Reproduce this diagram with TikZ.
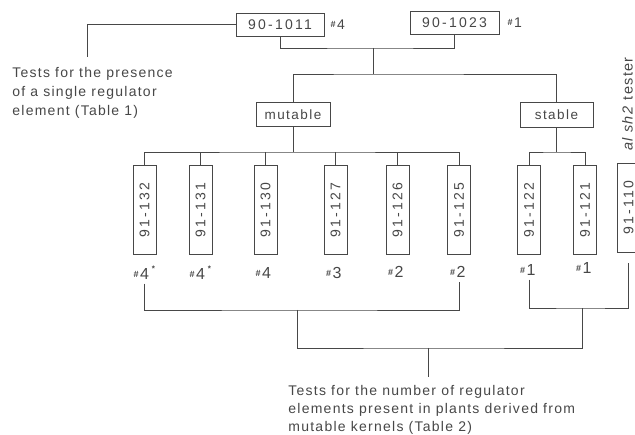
\documentclass[tikz,border=0pt]{standalone}
\usepackage{fontspec}
\setmainfont{Liberation Sans}
\newfontfamily\boxfont[LetterSpace=16]{Liberation Sans}
\newfontfamily\wordfont[LetterSpace=11]{Liberation Sans}
\newfontfamily\labfont[LetterSpace=9]{Liberation Sans}
\newcommand\hm{{\fontsize{9}{9}\selectfont\raisebox{2pt}{\textbf{\#}}}\kern1.5pt}
\newcommand\stmark{\rlap{\kern3pt\raisebox{8pt}{\fontsize{8}{8}\selectfont\textbf{*}}}}
\tikzset{
  diag/.style={x=1pt,y=-1pt,line width=0.7pt,color=black!72},
  numbox/.style={draw,inner sep=0pt,minimum height=23pt,font=\boxfont\fontsize{14}{14}\selectfont},
  wordbox/.style={draw,inner sep=0pt,minimum height=24pt,font=\wordfont\fontsize{13.5}{13.5}\selectfont},
  vbox/.style={draw,inner sep=0pt,minimum width=23pt,minimum height=89pt,font=\boxfont\fontsize{14}{14}\selectfont},
  lab/.style={inner sep=0pt,outer ysep=4pt,font=\fontsize{16}{16}\selectfont},
  hlab/.style={inner sep=0pt,anchor=west,font=\fontsize{14}{14}\selectfont},
  note/.style={inner sep=0pt,align=left,font=\labfont\fontsize{14}{19}\selectfont}
}
\begin{document}
\begin{tikzpicture}[diag]
\useasboundingbox (0,0) rectangle (635,435);
\clip (0,0) rectangle (635,435);
% top boxes
\node[numbox,minimum width=88pt] (n1011) at (280,24.5) {90-1011};
\node[numbox,minimum width=89pt] (n1023) at (454.5,22.5) {90-1023};
\node[hlab] (h1011) at ([xshift=6pt]n1011.east) {\hm4};
\node[hlab] (h1023) at ([xshift=8pt]n1023.east) {\hm1};
% class boxes
\node[wordbox,minimum width=74pt] (mutable) at (293,114.5) {mutable};
\node[wordbox,minimum width=73pt,minimum height=25pt] (stable) at (556.5,114.5) {stable};
% plant boxes
\node[vbox] (c132) at (144.5,210) {\rotatebox{90}{91-132}};
\node[vbox] (c131) at (200.5,210) {\rotatebox{90}{91-131}};
\node[vbox] (c130) at (265.5,210) {\rotatebox{90}{91-130}};
\node[vbox] (c127) at (335.5,210) {\rotatebox{90}{91-127}};
\node[vbox] (c126) at (397.5,210) {\rotatebox{90}{91-126}};
\node[vbox] (c125) at (459,210) {\rotatebox{90}{91-125}};
\node[vbox] (c122) at (529,210) {\rotatebox{90}{91-122}};
\node[vbox] (c121) at (585,210) {\rotatebox{90}{91-121}};
\node[vbox] (c110) at (628.5,207.5) {\rotatebox{90}{91-110}};
% labels under boxes
\node[lab] (l132) at (144.5,273) {\llap{\hm}4\stmark};
\node[lab] (l131) at (200.5,273) {\llap{\hm}4\stmark};
\node[lab] (l130) at (266.5,273) {\llap{\hm}4};
\node[lab] (l127) at (337,273) {\llap{\hm}3};
\node[lab] (l126) at (399,272) {\llap{\hm}2};
\node[lab] (l125) at (461,272) {\llap{\hm}2};
\node[lab] (l122) at (531,270) {\llap{\hm}1};
\node[lab] (l121) at (587,268) {\llap{\hm}1};
% side text
\node[note,anchor=north west] (t1) at (12,67) {Tests for the presence\\of a single regulator\\element (Table 1)};
\node[note,anchor=north west,font=\labfont\fontsize{14}{18}\selectfont] (t2) at (288,385)
  {Tests for the number of regulator\\elements present in plants derived from\\mutable kernels (Table 2)};
\node[inner sep=0pt,rotate=90,font=\labfont\fontsize{14.5}{14.5}\selectfont] (t3) at (627.5,104) {\textit{al sh2} tester};
% coordinates
\coordinate (j1) at (373,48);
\coordinate (j2) at (373,74);
\coordinate (mj) at (293,152);
\coordinate (sj) at (556.5,152);
\coordinate (lt) at (87,57);
\coordinate (bl) at (297,310);
\coordinate (br) at (582,308);
\coordinate (bm) at (428,348);
\coordinate (bt) at (428,377);
\coordinate (e110) at ([yshift=-11pt]c110.south);
% connectors
\draw (n1011.west) -| (lt);
\draw (n1011.south) |- (j1) -| (n1023.south);
\draw (j1) -- (j2);
\draw (mutable.north) |- (j2) -| (stable.north);
\draw (mutable.south) -- (mj);
\draw (c132.north) |- (mj) -| (c125.north);
\draw (c131.north) -- (c131.north |- mj);
\draw (c130.north) -- (c130.north |- mj);
\draw (c127.north) -- (c127.north |- mj);
\draw (c126.north) -- (c126.north |- mj);
\draw (stable.south) -- (sj);
\draw (c122.north) |- (sj) -| (c121.north);
\draw (c132 |- l132.south) |- (bl) -| (c125 |- l125.south);
\draw (c122 |- l122.south) |- (br) -| (e110);
\draw (bl) |- (bm) -| (br);
\draw (bm) -- (bt);
\end{tikzpicture}
\end{document}
